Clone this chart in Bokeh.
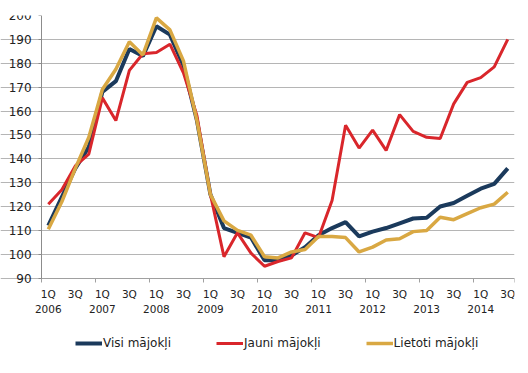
from bokeh.plotting import figure
from bokeh.models import ColumnDataSource, FixedTicker, Legend, LegendItem, Range1d
from bokeh.embed import file_html
from bokeh.resources import INLINE

quarters = ["1Q", "2Q", "3Q", "4Q"]
years = [2006, 2007, 2008, 2009, 2010, 2011, 2012, 2013, 2014]
y_ticks = list(range(90, 201, 10))

visi = [112, 124, 136, 145, 168, 172.5, 186, 183, 195.5, 192, 179, 156,
        125, 111, 109, 107, 97.5, 97.5, 99.5, 103, 108, 111, 113.5, 107.5,
        109.5, 111, 113, 115, 115.3, 120, 121.5, 124.5, 127.5, 129.5, 136]
jauni = [121, 127, 137, 142, 165.5, 156, 177, 184, 184.5, 188, 176, 158,
         125, 99, 109, 100.5, 95, 97, 98.5, 109, 107, 122.5, 154, 144.5,
         152, 143.5, 158.5, 151.5, 149, 148.5, 163, 172, 174, 178.5, 190]
lietoti = [110.5, 122, 136, 149, 169, 177.5, 189, 183.5, 199, 194, 181, 156,
           125, 114, 110, 108, 99, 98.5, 101, 102, 107.5, 107.5, 107, 101,
           103, 106, 106.5, 109.5, 110, 115.5, 114.5, 117, 119.5, 121, 126]

series_names = ["Visi mājokļi", "Jauni mājokļi", "Lietoti mājokļi"]
colors = ["#1B3A5C", "#D9262B", "#D9A843"]
widths = [4, 3, 3.5]

n = len(visi)
xs = [i + 0.5 for i in range(n)]
labels = {}
for i in range(n):
    y = years[i // 4]
    if i % 4 == 0:
        labels[xs[i]] = f"1Q\n{y}"
    elif i % 4 == 2:
        labels[xs[i]] = quarters[2]

src = ColumnDataSource(dict(x=xs, visi=visi, jauni=jauni, lietoti=lietoti))

FONT = "DejaVu Sans"
y_min, y_max = y_ticks[0], y_ticks[-1]

# layout in pixels
px_per_cat = 13.5
left_px = 41
plot_h_px = 262.7
frame_h = 350
frame_w = 514
x_lo = -left_px / px_per_cat
y_lo = y_max - frame_h * (y_max - y_min) / plot_h_px

p = figure(frame_width=frame_w, frame_height=frame_h, output_backend="svg",
           toolbar_location=None,
           x_range=Range1d(x_lo, n), y_range=Range1d(y_lo, y_max),
           min_border_left=0, min_border_right=6, min_border_top=15,
           min_border_bottom=0)
p.outline_line_color = None
p.background_fill_color = "white"
p.xgrid.grid_line_color = None
p.ygrid.grid_line_color = "#B5B5B5"
p.ygrid.grid_line_width = 1
p.ygrid.bounds = (0, n)

p.yaxis.fixed_location = 0
p.yaxis.ticker = FixedTicker(ticks=y_ticks)
p.yaxis.bounds = (y_min, y_max)
p.yaxis.axis_line_color = "#8C8C8C"
p.yaxis.major_tick_line_color = "#8C8C8C"
p.yaxis.major_tick_out = 3
p.yaxis.major_tick_in = 0
p.yaxis.minor_tick_line_color = None
p.yaxis.major_label_text_font = FONT
p.yaxis.major_label_text_font_size = "12px"
p.yaxis.major_label_text_color = "#222222"
p.yaxis.major_label_standoff = 7

year_bounds = [i for i in range(0, n, 4)] + [n]
p.xaxis.fixed_location = y_min
p.xaxis.bounds = (0, n)
p.xaxis.ticker = FixedTicker(ticks=sorted(labels.keys()), minor_ticks=year_bounds)
p.xaxis.major_label_overrides = labels
p.xaxis.axis_line_color = "#A0A0A0"
p.xaxis.major_tick_line_color = None
p.xaxis.major_tick_out = 4
p.xaxis.minor_tick_line_color = "#A0A0A0"
p.xaxis.minor_tick_out = 4
p.xaxis.minor_tick_in = 0
p.xaxis.major_label_text_font = FONT
p.xaxis.major_label_text_font_size = "10.5px"
p.xaxis.major_label_text_color = "#222222"
p.xaxis.major_label_standoff = 6

r_visi = p.line("x", "visi", source=src, color=colors[0], line_width=widths[0])
r_jauni = p.line("x", "jauni", source=src, color=colors[1], line_width=widths[1])
r_liet = p.line("x", "lietoti", source=src, color=colors[2], line_width=widths[2])

legend = Legend(items=[LegendItem(label=series_names[0], renderers=[r_visi]),
                       LegendItem(label=series_names[1], renderers=[r_jauni]),
                       LegendItem(label=series_names[2], renderers=[r_liet])],
                orientation="horizontal", location=(75, 12),
                border_line_color=None, background_fill_alpha=0,
                label_text_font=FONT, label_text_font_size="12px",
                label_text_color="#222222",
                glyph_width=27, label_standoff=1, spacing=45,
                margin=0, padding=4)
p.add_layout(legend, "center")

open("out.html", "w").write(file_html(p, INLINE))
